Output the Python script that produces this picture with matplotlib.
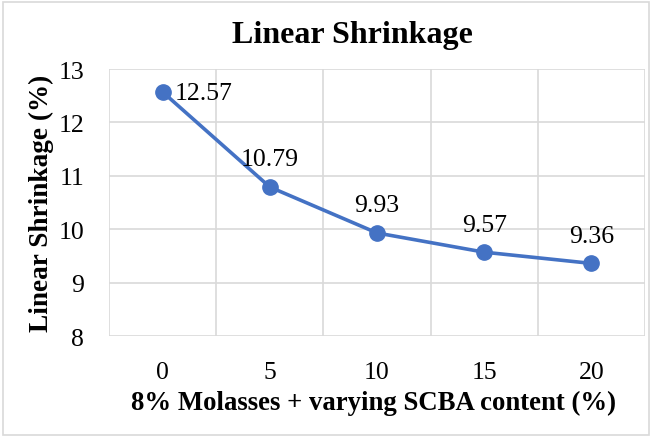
import matplotlib.pyplot as plt
from matplotlib.patches import Rectangle

plt.rcParams['font.family'] = ['Liberation Serif', 'DejaVu Serif']

categories = ['0', '5', '10', '15', '20']
shrinkage = [12.57, 10.79, 9.93, 9.57, 9.36]
labels = ['12.57', '10.79', '9.93', '9.57', '9.36']

fig = plt.figure(figsize=(6.52, 4.39), dpi=100)
ax = fig.add_axes([0.1672, 0.2323, 0.8221, 0.6082])

x = range(len(categories))
ax.plot(x, shrinkage, color='#4472C4', lw=2.6, marker='o', ms=11, zorder=3)

for i, (v, t) in enumerate(zip(shrinkage, labels)):
    if i == 0:
        ax.annotate(t, (i, v), xytext=(9, -1), textcoords='offset points',
                    ha='left', va='center', fontsize=18.5)
    else:
        ax.annotate(t, (i, v), xytext=(0, 12), textcoords='offset points',
                    ha='center', va='bottom', fontsize=18.5)

ax.set_xlim(-0.5, 4.5)
ax.set_ylim(8, 13)
ax.set_xticks(list(x))
ax.set_xticklabels(categories)
ax.set_yticks([8, 9, 10, 11, 12, 13])
ax.set_xticks([-0.5, 0.5, 1.5, 2.5, 3.5, 4.5], minor=True)
ax.grid(axis='y', which='major', color='#D9D9D9', lw=1.2)
ax.grid(axis='x', which='minor', color='#D9D9D9', lw=1.2)
ax.tick_params(which='both', length=0, labelsize=18.5)
ax.tick_params(axis='y', pad=18)
ax.tick_params(axis='x', pad=18)
for s in ax.spines.values():
    s.set_visible(False)
ax.set_axisbelow(True)

xl = ax.set_xlabel('8% Molasses + varying SCBA content (%)', fontsize=19.3,
                   fontweight='bold', labelpad=5)
xl.set_x(0.494)
ax.set_ylabel('Linear Shrinkage (%)', fontsize=19.6, fontweight='bold', labelpad=3)
fig.text(0.54, 0.918, 'Linear Shrinkage', ha='center', va='center',
         fontsize=23, fontweight='bold')

fig.patches.append(Rectangle((0.005, 0.007), 0.99, 0.986, transform=fig.transFigure,
                             fill=False, edgecolor='#D9D9D9', lw=1.2))

fig.savefig('out.png', dpi=100)
